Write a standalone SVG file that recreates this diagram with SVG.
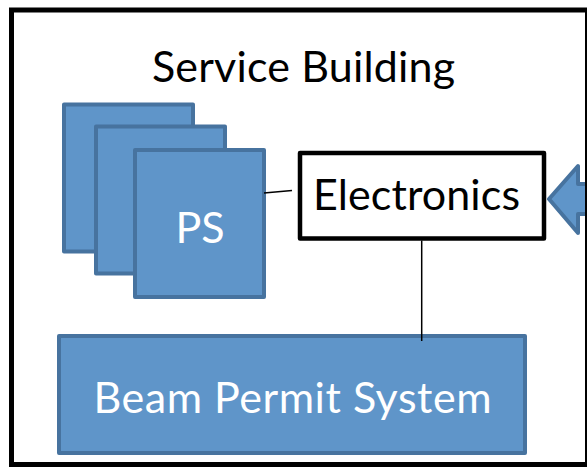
<svg xmlns="http://www.w3.org/2000/svg" width="587" height="470" viewBox="0 0 587 470">
<style>
.blk{fill:#5F95C9;stroke:#47739F;stroke-width:4;stroke-linejoin:round}
.lbl{font-family:Lato,"Open Sans","Liberation Sans",sans-serif;font-size:43px;text-anchor:middle}
.w{fill:#ffffff}
.k{fill:#000000}
.conn{stroke:#000000;stroke-width:1.5;fill:none}
</style>
<rect width="587" height="470" fill="#ffffff"/>
<g id="input-arrow">
<polygon class="blk" points="549,199 578,166 578,184 600,184 600,214 578,214 578,233"/>
</g>
<g id="service-building">
<rect x="11.5" y="10" width="576" height="454.5" fill="none" stroke="#000000" stroke-width="5"/>
<text class="lbl k" x="303.5" y="81.7" textLength="303" lengthAdjust="spacing">Service Building</text>
</g>
<g id="ps-back">
<rect class="blk" x="64" y="104.5" width="129" height="147"/>
</g>
<g id="ps-middle">
<rect class="blk" x="96" y="126.5" width="129" height="147"/>
</g>
<g id="ps">
<rect class="blk" x="135" y="150" width="129" height="147"/>
<text class="lbl w" x="200" y="243.3">PS</text>
</g>
<g id="electronics">
<rect x="300" y="153" width="244" height="85.5" fill="#ffffff" stroke="#000000" stroke-width="4.5" stroke-linejoin="round"/>
<text class="lbl k" x="416.5" y="210" textLength="207" lengthAdjust="spacing">Electronics</text>
</g>
<g id="beam-permit-system">
<rect class="blk" x="59" y="336" width="466" height="117"/>
<text class="lbl w" x="292.5" y="413.3" textLength="398" lengthAdjust="spacing">Beam Permit System</text>
</g>
<g id="connectors">
<line class="conn" x1="264" y1="193" x2="292" y2="190.5"/>
<line class="conn" x1="421.7" y1="240.5" x2="421.7" y2="341"/>
</g>
</svg>
